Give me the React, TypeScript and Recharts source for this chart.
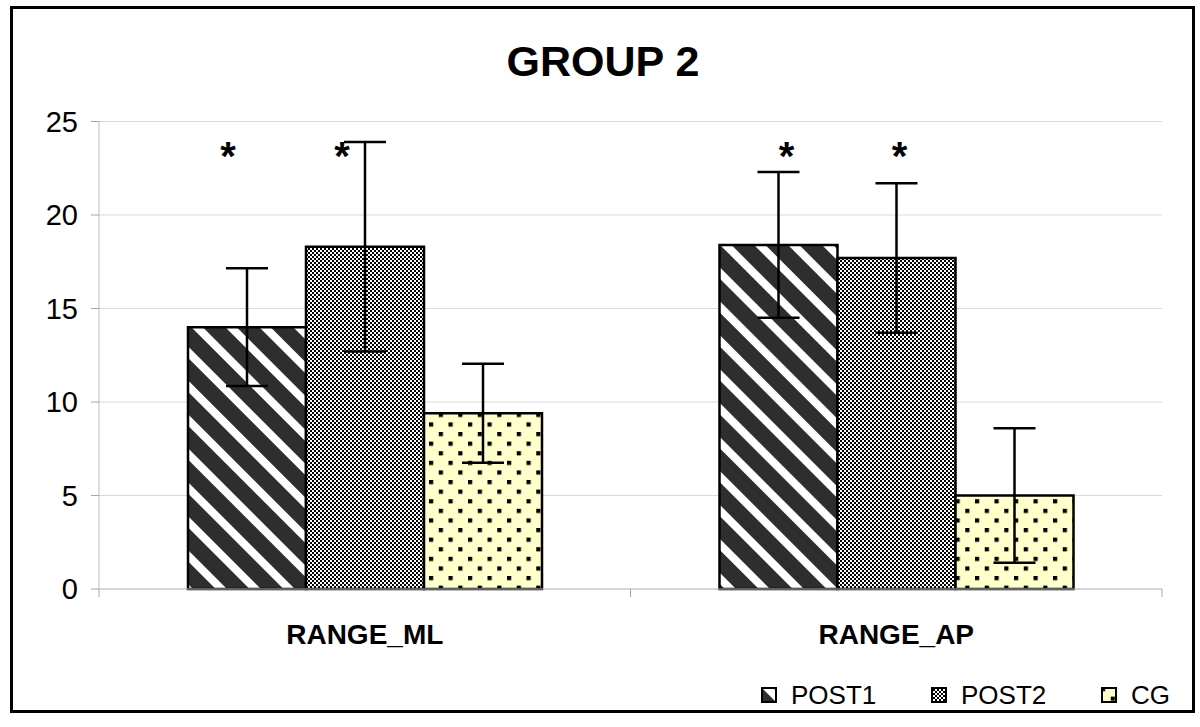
import React from 'react';
import { BarChart, Bar, XAxis, YAxis, CartesianGrid, ErrorBar, LabelList, Legend } from 'recharts';

const categories = ['RANGE_ML', 'RANGE_AP'];
const post1 = [14.0, 18.4];
const post1Sd = [3.15, 3.9];
const post2 = [18.3, 17.7];
const post2Sd = [5.6, 4.0];
const cg = [9.4, 5.0];
const cgSd = [2.65, 3.6];
const post1Sig = ['*', '*'];
const post2Sig = ['*', '*'];
const yTicks = [0, 5, 10, 15, 20, 25];
const seriesNames = ['POST1', 'POST2', 'CG'];
const starLevel = 23.6;
const title = 'GROUP 2';

const data = categories.map((name, i) => ({
  name,
  post1: post1[i],
  post1Sd: post1Sd[i],
  post1Sig: post1Sig[i],
  post2: post2[i],
  post2Sd: post2Sd[i],
  post2Sig: post2Sig[i],
  cg: cg[i],
  cgSd: cgSd[i],
}));

const FONT = '"Liberation Sans", Arial, Helvetica, sans-serif';
const patternIds = ['pPost1', 'pPost2', 'pCg'];

// visual nudges for the hand-placed asterisks (styling only)
const post1StarNudge = [-19, 8];
const post2StarNudge = [-23, 3];

const makeStar = (nudge: number[], key: 'post1' | 'post2') => (props: any) => {
  const vb = props.viewBox || {};
  const x = props.x ?? vb.x;
  const y = props.y ?? vb.y;
  const width = props.width ?? vb.width;
  const height = props.height ?? vb.height;
  const index = props.index ?? 0;
  const value = props.value;
  if (!value) return null;
  const barVal = data[index][key];
  const base = y + height;
  const perUnit = height / barVal;
  const cy = base - starLevel * perUnit;
  const fs = 40;
  return (
    <text
      x={x + width / 2 + (nudge[index] || 0)}
      y={cy + fs * 0.57}
      textAnchor="middle"
      fontFamily={FONT}
      fontWeight="bold"
      fontSize={fs}
      fill="#000"
    >
      {value}
    </text>
  );
};

const XTick = (props: any) => {
  const { x, y, payload } = props;
  const half = payload && payload.offset ? payload.offset : 265.75;
  const axisY = y - 35;
  return (
    <g>
      <line x1={x - half} x2={x - half} y1={axisY} y2={axisY + 8} stroke="#a6a6a6" />
      <line x1={x + half} x2={x + half} y1={axisY} y2={axisY + 8} stroke="#a6a6a6" />
      <text
        x={x}
        y={y}
        dy="0.71em"
        textAnchor="middle"
        fontFamily={FONT}
        fontWeight="bold"
        fontSize={28}
        fill="#000"
      >
        {payload.value}
      </text>
    </g>
  );
};

const renderLegend = () => (
  <div style={{ position: 'relative', width: 440, height: 30, fontFamily: FONT, fontSize: 26, color: '#000' }}>
    {seriesNames.map((n, i) => (
      <div
        key={n}
        style={{ position: 'absolute', left: i * 170, top: 0, height: 30, display: 'flex', alignItems: 'center', whiteSpace: 'nowrap' }}
      >
        <svg width={16} height={16} style={{ marginRight: 14, display: 'block' }}>
          <rect x={1} y={1} width={14} height={14} fill={`url(#${patternIds[i]})`} stroke="#000" strokeWidth={2} />
        </svg>
        <span style={{ lineHeight: '30px' }}>{n}</span>
      </div>
    ))}
  </div>
);

export default function App() {
  return (
    <div style={{ position: 'absolute', left: 0, top: 0, width: 1200, height: 727, background: '#fff' }}>
      <div
        style={{
          position: 'absolute',
          left: 10,
          top: 6,
          width: 1185,
          height: 707,
          border: '3px solid #000',
          boxSizing: 'border-box',
        }}
      />
      <svg width={1200} height={110} style={{ position: 'absolute', left: 0, top: 0 }}>
        <text x={603} y={76} textAnchor="middle" fontFamily={FONT} fontWeight="bold" fontSize={43} fill="#000">
          {title}
        </text>
      </svg>
      <div style={{ position: 'absolute', left: 0, top: 0 }}>
        <BarChart
          width={1200}
          height={727}
          data={data}
          margin={{ top: 121.5, right: 38, bottom: 78, left: 0 }}
          barGap={0}
          barSize={118}
        >
          <defs>
            <pattern id="pPost1" patternUnits="userSpaceOnUse" width="24" height="24" patternTransform="rotate(-45)">
              <rect width="24" height="24" fill="#2e2e2e" />
              <rect width="8" height="24" fill="#ffffff" />
            </pattern>
            <pattern id="pPost2" patternUnits="userSpaceOnUse" width="4" height="4">
              <rect width="4" height="4" fill="#ffffff" />
              <rect x="0" y="0" width="2" height="2" fill="#000" />
              <rect x="2" y="2" width="2" height="2" fill="#000" />
            </pattern>
            <pattern id="pCg" patternUnits="userSpaceOnUse" width="19.5" height="19.2">
              <rect width="19.5" height="19.2" fill="#ffffcc" />
              <rect x="0" y="0" width="4.2" height="4.2" fill="#000" />
              <rect x="9.75" y="9.6" width="4.2" height="4.2" fill="#000" />
            </pattern>
          </defs>
          <CartesianGrid vertical={false} stroke="#d9d9d9" />
          <XAxis
            dataKey="name"
            height={60}
            tickLine={false}
            tickSize={0}
            tickMargin={35}
            axisLine={{ stroke: '#bfbfbf' }}
            tick={<XTick />}
            interval={0}
          />
          <YAxis
            domain={[0, 25]}
            ticks={yTicks}
            width={99}
            interval={0}
            tickSize={8}
            tickMargin={13}
            tickLine={{ stroke: '#a6a6a6' }}
            axisLine={{ stroke: '#bfbfbf' }}
            tick={{ fontSize: 29, fill: '#000', fontFamily: FONT }}
          />
          <Legend
            layout="horizontal"
            verticalAlign="middle"
            align="center"
            content={renderLegend}
            wrapperStyle={{ left: 761, top: 680, width: 440, height: 30 }}
          />
          <Bar dataKey="post1" name={seriesNames[0]} fill="url(#pPost1)" stroke="#000" strokeWidth={2.5} isAnimationActive={false}>
            <ErrorBar dataKey="post1Sd" width={21} stroke="#000" strokeWidth={2.5} direction="y" />
            <LabelList dataKey="post1Sig" content={makeStar(post1StarNudge, 'post1')} />
          </Bar>
          <Bar dataKey="post2" name={seriesNames[1]} fill="url(#pPost2)" stroke="#000" strokeWidth={2.5} isAnimationActive={false}>
            <ErrorBar dataKey="post2Sd" width={21} stroke="#000" strokeWidth={2.5} direction="y" />
            <LabelList dataKey="post2Sig" content={makeStar(post2StarNudge, 'post2')} />
          </Bar>
          <Bar dataKey="cg" name={seriesNames[2]} fill="url(#pCg)" stroke="#000" strokeWidth={2.5} isAnimationActive={false}>
            <ErrorBar dataKey="cgSd" width={21} stroke="#000" strokeWidth={2.5} direction="y" />
          </Bar>
        </BarChart>
      </div>
    </div>
  );
}
